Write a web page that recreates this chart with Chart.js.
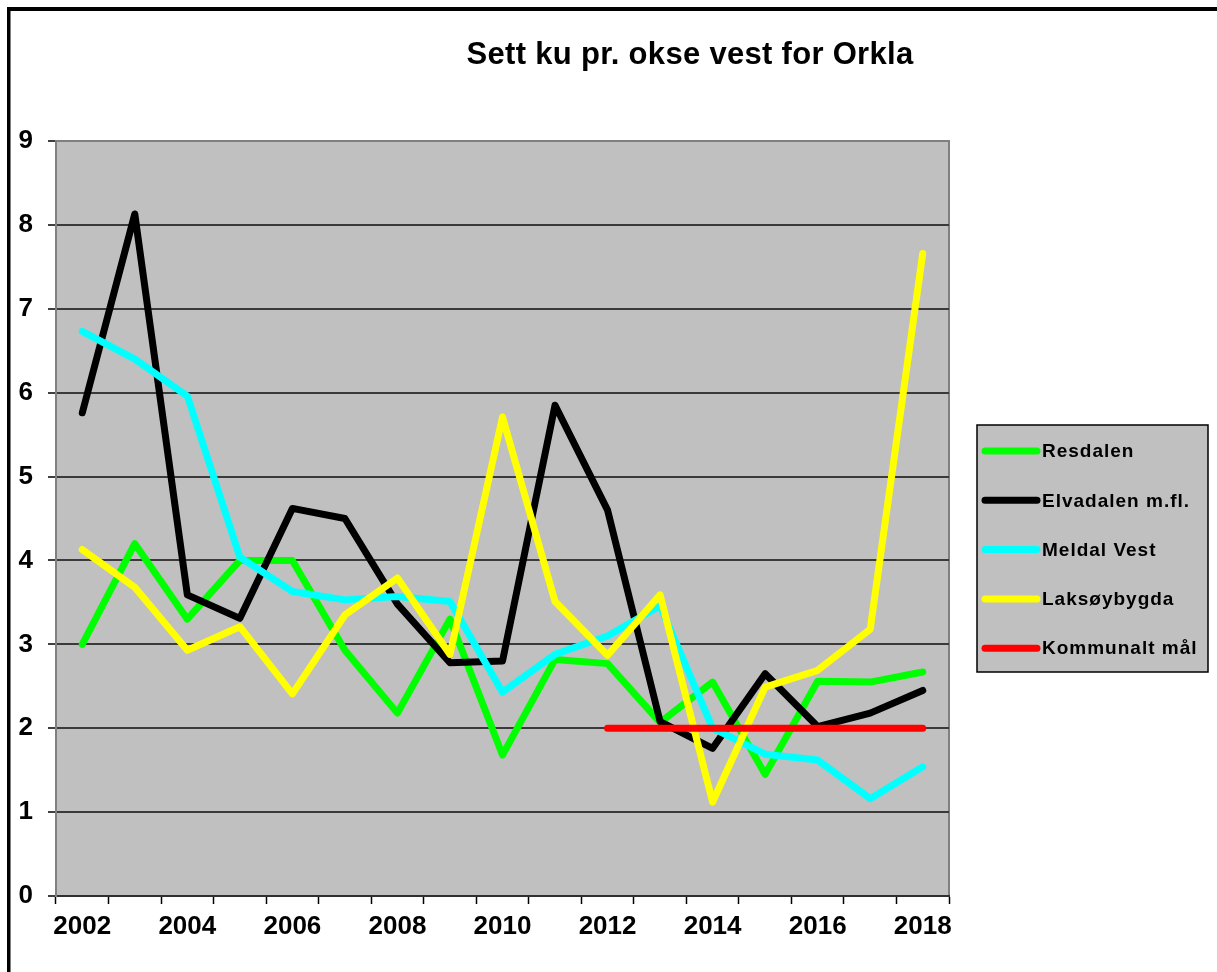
<!DOCTYPE html>
<html>
<head>
<meta charset="utf-8">
<script src="https://cdn.jsdelivr.net/npm/chart.js@4"></script>
<style>
  html, body { margin: 0; padding: 0; background: #fff; }
  canvas { display: block; }
</style>
</head>
<body>
<canvas id="c" width="1217" height="972"></canvas>
<script>
const chartTitle = 'Sett ku pr. okse vest for Orkla';
const years = ['2002','2003','2004','2005','2006','2007','2008','2009','2010','2011','2012','2013','2014','2015','2016','2017','2018'];
const yTicks = [0, 1, 2, 3, 4, 5, 6, 7, 8, 9];
const seriesNames = ['Resdalen', 'Elvadalen m.fl.', 'Meldal Vest', 'Laksøybygda', 'Kommunalt mål'];
const seriesColors = ['#00FF00', '#000000', '#00FFFF', '#FFFF00', '#FF0000'];
const resdalen   = [3.00, 4.20, 3.30, 4.00, 4.00, 2.93, 2.18, 3.30, 1.68, 2.82, 2.77, 2.07, 2.55, 1.45, 2.56, 2.55, 2.67];
const elvadalen  = [5.76, 8.13, 3.59, 3.31, 4.62, 4.50, 3.48, 2.78, 2.80, 5.85, 4.60, 2.08, 1.76, 2.65, 2.02, 2.18, 2.45];
const meldalVest = [6.73, 6.40, 5.96, 4.04, 3.63, 3.53, 3.57, 3.51, 2.43, 2.88, 3.10, 3.46, 2.00, 1.69, 1.62, 1.16, 1.54];
const laksoy     = [4.13, 3.68, 2.93, 3.21, 2.41, 3.35, 3.79, 2.88, 5.71, 3.51, 2.87, 3.59, 1.12, 2.49, 2.69, 3.18, 7.66];
const kommunalt  = [null, null, null, null, null, null, null, null, null, null, 2, 2, 2, 2, 2, 2, 2];
const seriesData = [resdalen, elvadalen, meldalVest, laksoy, kommunalt];

const FONT = '"Liberation Sans", Arial, Helvetica, sans-serif';

const decor = {
  id: 'decor',
  beforeDraw(chart) {
    const { ctx, chartArea: a, width, height } = chart;
    ctx.save();
    ctx.fillStyle = '#ffffff';
    ctx.fillRect(0, 0, width, height);
    // outer chart border (top + left)
    ctx.fillStyle = '#000000';
    ctx.fillRect(7, 7, width, 4);
    ctx.fillRect(7, 7, 3.5, height);
    // plot background
    ctx.fillStyle = '#C0C0C0';
    ctx.fillRect(a.left, a.top, a.right - a.left, a.bottom - a.top);
    ctx.strokeStyle = '#808080';
    ctx.lineWidth = 2;
    ctx.beginPath();
    ctx.moveTo(a.left, a.top);
    ctx.lineTo(a.right, a.top);
    ctx.lineTo(a.right, a.bottom);
    ctx.stroke();
    // title
    ctx.fillStyle = '#000000';
    ctx.font = 'bold 31px ' + FONT;
    ctx.textAlign = 'center';
    ctx.textBaseline = 'alphabetic';
    try { ctx.letterSpacing = '0.3px'; } catch (e) {}
    ctx.fillText(chartTitle, 690, 64);
    ctx.restore();
  },
  afterDraw(chart) {
    const { ctx } = chart;
    ctx.save();
    const bx = 977, by = 425, bw = 231, bh = 247;
    ctx.fillStyle = '#C0C0C0';
    ctx.fillRect(bx, by, bw, bh);
    ctx.strokeStyle = '#000000';
    ctx.lineWidth = 1.5;
    ctx.strokeRect(bx, by, bw, bh);
    ctx.font = 'bold 19px ' + FONT;
    try { ctx.letterSpacing = '1px'; } catch (e) {}
    ctx.textAlign = 'left';
    ctx.textBaseline = 'middle';
    chart.data.datasets.forEach((ds, i) => {
      const y = 451 + i * 49.3;
      ctx.strokeStyle = ds.borderColor;
      ctx.lineWidth = 7;
      ctx.lineCap = 'round';
      ctx.beginPath();
      ctx.moveTo(985, y);
      ctx.lineTo(1037, y);
      ctx.stroke();
      ctx.fillStyle = '#000000';
      ctx.fillText(ds.label, 1042, y + 1);
    });
    ctx.restore();
  }
};

const datasets = seriesNames.map((name, i) => ({
  label: name,
  data: seriesData[i],
  borderColor: seriesColors[i],
  backgroundColor: seriesColors[i],
  borderWidth: 7,
  borderCapStyle: 'round',
  borderJoinStyle: 'round',
  pointRadius: 0,
  pointHoverRadius: 0,
  tension: 0,
  fill: false,
  spanGaps: false,
  order: seriesNames.length - i
}));

new Chart(document.getElementById('c'), {
  type: 'line',
  data: { labels: years, datasets },
  plugins: [decor],
  options: {
    responsive: false,
    devicePixelRatio: 1,
    animation: false,
    events: [],
    layout: { padding: { left: 0, top: 141, right: 268, bottom: 0 } },
    plugins: {
      legend: { display: false },
      title: { display: false },
      tooltip: { enabled: false }
    },
    scales: {
      x: {
        type: 'category',
        offset: true,
        afterFit: s => { s.height = 76; },
        grid: {
          display: true,
          offset: true,
          drawOnChartArea: false,
          drawTicks: true,
          tickLength: 8,
          tickColor: '#000000',
          tickWidth: 1.5
        },
        border: { display: true, color: '#303030', width: 2 },
        ticks: {
          autoSkip: false,
          maxRotation: 0,
          minRotation: 0,
          padding: 7,
          color: '#000000',
          font: { family: FONT, size: 26, weight: 'bold' },
          callback: (v, i) => (i % 2 === 0 ? years[i] : '')
        }
      },
      y: {
        min: yTicks[0],
        max: yTicks[yTicks.length - 1],
        afterFit: s => { s.width = 56; },
        afterBuildTicks: s => { s.ticks = yTicks.map(v => ({ value: v })); },
        grid: {
          display: true,
          drawOnChartArea: true,
          drawTicks: true,
          tickLength: 8,
          tickColor: '#000000',
          tickWidth: 1.5,
          lineWidth: 2,
          color: c => (c.tick && (c.tick.value === 9 || c.tick.value === 0)) ? 'rgba(0,0,0,0)' : '#3a3a3a'
        },
        border: { display: true, color: '#808080', width: 2 },
        ticks: {
          stepSize: 1,
          padding: 15,
          color: '#000000',
          font: { family: FONT, size: 26, weight: 'bold' }
        }
      }
    }
  }
});
</script>
</body>
</html>
